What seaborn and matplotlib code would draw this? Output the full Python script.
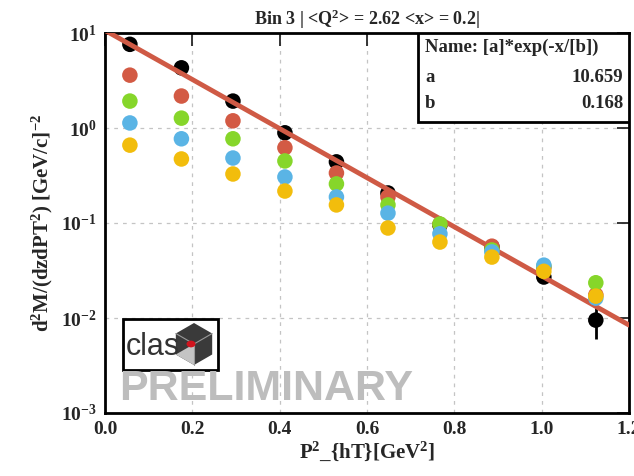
import numpy as np
import pandas as pd
import matplotlib
matplotlib.use("Agg")
import matplotlib.pyplot as plt
import matplotlib.ticker as mticker
from matplotlib.patches import Rectangle, Polygon, Circle
import seaborn as sns

# ---------------- data ----------------
pt2 = [0.057, 0.175, 0.293, 0.412, 0.530, 0.648, 0.767, 0.886, 1.005, 1.124]
black = [7.6, 4.3, 1.92, 0.89, 0.44, 0.207, 0.095, 0.056, 0.027, 0.0095]
black_err = [0.15, 0.08, 0.04, 0.02, 0.01, 0.006, 0.003, 0.002, 0.0015, 0.0035]
red = [3.6, 2.17, 1.19, 0.62, 0.336, 0.188, 0.097, 0.057, 0.034, 0.0175]
green = [1.92, 1.27, 0.77, 0.45, 0.258, 0.155, 0.0975, 0.052, 0.035, 0.0235]
blue = [1.13, 0.77, 0.483, 0.305, 0.188, 0.127, 0.077, 0.0496, 0.036, 0.0162]
yellow = [0.66, 0.472, 0.328, 0.217, 0.155, 0.0886, 0.063, 0.0438, 0.031, 0.017]
series_names = ["black", "red", "green", "blue", "yellow"]
fit_a = 10.659
fit_b = 0.168
title = "Bin 3 | <Q$^{2}$> = 2.62 <x> = 0.2|"
x_ticks = [0.0, 0.2, 0.4, 0.6, 0.8, 1.0, 1.2]

palette = {"black": "#000000", "red": "#d35a44", "green": "#86d62a",
           "blue": "#5ab4e5", "yellow": "#f2bd0c"}

colored = pd.DataFrame({
    "pt2": pt2 * 4,
    "val": red + green + blue + yellow,
    "series": sum([[n] * len(pt2) for n in series_names[1:]], []),
})
blk = pd.DataFrame({"pt2": pt2, "val": black, "series": "black"})

fit_x = np.linspace(0.0, 1.2, 200)
fit_df = pd.DataFrame({"pt2": fit_x, "val": fit_a * np.exp(-fit_x / fit_b)})

# ---------------- style ----------------
sns.set_style("white")
plt.rcParams["font.family"] = ["Liberation Serif", "DejaVu Serif"]
plt.rcParams["font.weight"] = "bold"
plt.rcParams["mathtext.fontset"] = "custom"
plt.rcParams["mathtext.rm"] = "Liberation Serif:bold"
plt.rcParams["mathtext.it"] = "Liberation Serif:bold"
plt.rcParams["mathtext.bf"] = "Liberation Serif:bold"

fig = plt.figure(figsize=(6.34, 4.76), dpi=100)
ax = fig.add_axes([105 / 634, 63 / 476, 524 / 634, 380 / 476])

ax.set_yscale("log")
ax.set_xlim(0, 1.2)
ax.set_ylim(1e-3, 10)

# grid
for gx in [0.2, 0.4, 0.6, 0.8, 1.0]:
    ax.axvline(gx, color="#c4c4c4", lw=0.9, ls=(0, (3, 4)), zorder=0)
for gy in [1e-2, 1e-1, 1e0]:
    ax.axhline(gy, color="#c4c4c4", lw=0.9, ls=(0, (3, 4)), zorder=0)

# black points with error bars
ax.errorbar(pt2, black, yerr=black_err, fmt="none", ecolor="black",
            elinewidth=2, zorder=2)
sns.scatterplot(data=blk, x="pt2", y="val", color="black", s=125,
                edgecolor="none", ax=ax, zorder=2, legend=False)

# fit line
sns.lineplot(data=fit_df, x="pt2", y="val", color="#cf5a45", lw=3.5,
             ax=ax, zorder=3, legend=False)

# other series
sns.scatterplot(data=colored, x="pt2", y="val", hue="series",
                palette=palette, s=125, edgecolor="none", ax=ax,
                zorder=4, legend=False)

# axes styling
for sp in ax.spines.values():
    sp.set_linewidth(2)
    sp.set_color("black")
ax.set_xticks(x_ticks)
ax.xaxis.set_major_formatter(mticker.FormatStrFormatter("%.1f"))
ax.xaxis.set_minor_locator(mticker.MultipleLocator(0.04))
ax.yaxis.set_major_locator(mticker.LogLocator(base=10, numticks=10))
ax.yaxis.set_minor_locator(mticker.LogLocator(base=10, subs=np.arange(2, 10), numticks=20))
ax.yaxis.set_minor_formatter(mticker.NullFormatter())
ax.tick_params(axis="both", which="major", direction="in", length=9, width=1.3,
               labelsize=14, top=True, right=True, pad=6)
ax.tick_params(axis="both", which="minor", direction="in", length=5, width=1.0,
               top=False, right=False)
for lab in ax.get_xticklabels() + ax.get_yticklabels():
    lab.set_fontweight("bold")

ax.set_xlabel("P$^{2}$_{hT}[GeV$^{2}$]", fontsize=15, fontweight="bold", labelpad=1)
ax.set_ylabel("d$^{2}$M/(dzdPT$^{2}$) [GeV/c]$^{-2}$", fontsize=15,
              fontweight="bold", labelpad=4)
ax.set_title(title, fontsize=13, fontweight="bold", pad=6, x=0.5)

# fit stats box
bx = ax.transAxes
ax.add_patch(Rectangle((313 / 524, 291 / 380), 211 / 524, 89 / 380, transform=bx,
                       facecolor="white", edgecolor="black", lw=2, zorder=6))
ax.text(320 / 524, 366 / 380, "Name: [a]*exp(-x/[b])", transform=bx, fontsize=13.5,
        fontweight="bold", va="center", ha="left", zorder=7)
ax.text(320 / 524, 336 / 380, "a", transform=bx, fontsize=13.5,
        fontweight="bold", va="center", ha="left", zorder=7)
ax.text(518 / 524, 336 / 380, f"{fit_a:.3f}", transform=bx, fontsize=13.5,
        fontweight="bold", va="center", ha="right", zorder=7)
ax.text(320 / 524, 309 / 380, "b", transform=bx, fontsize=13.5,
        fontweight="bold", va="center", ha="left", zorder=7)
ax.text(518 / 524, 309 / 380, f"{fit_b:.3f}", transform=bx, fontsize=13.5,
        fontweight="bold", va="center", ha="right", zorder=7)

# CLAS logo (figure pixel coords)
ft = fig.transFigure
def fx(px):
    return px / 634
def fy(py):
    return 1 - py / 476
fig.patches.append(Rectangle((fx(123), fy(370)), fx(218) - fx(123), fy(319) - fy(370),
                             transform=ft, facecolor="white", edgecolor="black",
                             lw=2, zorder=8))
cx, cy, r = 194, 344, 21
hexpts = [(cx + r * np.cos(np.pi / 6 + k * np.pi / 3), cy - r * np.sin(np.pi / 6 + k * np.pi / 3)) for k in range(6)]
fig.patches.append(Polygon([(fx(x), fy(y)) for x, y in hexpts], closed=True,
                           transform=ft, facecolor="#3a3a3a", edgecolor="none", zorder=9))
facet = [(cx, cy), hexpts[3], hexpts[4], (cx, cy + r)]
fig.patches.append(Polygon([(fx(x), fy(y)) for x, y in facet], closed=True,
                           transform=ft, facecolor="#c4c4c4", edgecolor="none", zorder=9))
for k in (0, 2, 4):
    fig.lines.append(plt.Line2D([fx(cx), fx(hexpts[k][0])], [fy(cy), fy(hexpts[k][1])],
                                transform=ft, color="#9a9a9a", lw=0.8, zorder=9.5))
fig.text(fx(126), fy(347), "clas", fontsize=22, color="#333333",
         family=["Liberation Sans", "DejaVu Sans"], fontweight="normal",
         va="center", ha="left", zorder=11)
fig.patches.append(Circle((fx(cx - 3), fy(cy)), 4.5 / 634, transform=ft,
                          facecolor="#d0141e", edgecolor="none", zorder=12))

# watermark
fig.text(fx(119), fy(389), "PRELIMINARY", fontsize=31, color="#bdbdbd",
         family=["Liberation Sans", "DejaVu Sans"], fontweight="bold",
         va="center", ha="left", zorder=8)

fig.savefig("out.png", dpi=100)
